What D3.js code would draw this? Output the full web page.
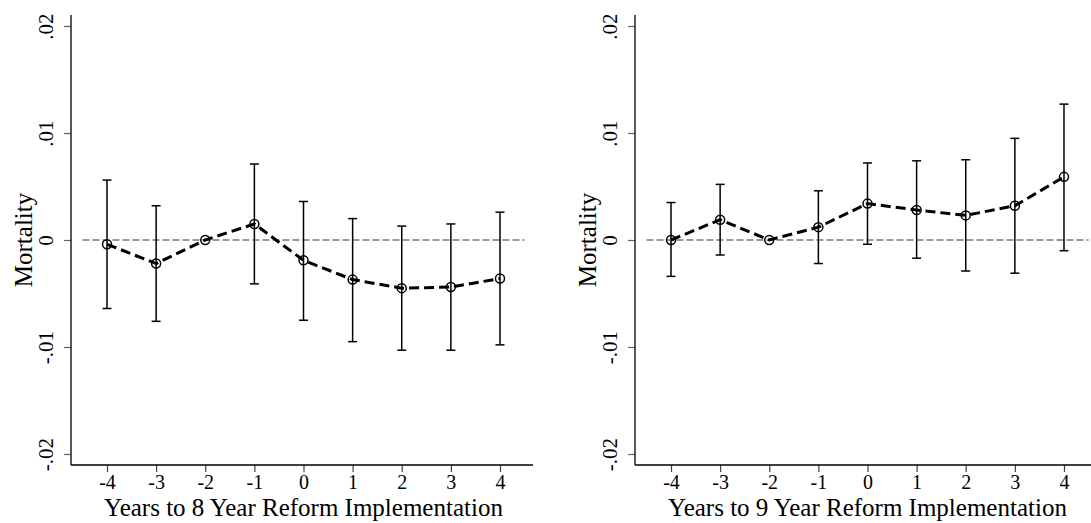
<!DOCTYPE html>
<html>
<head>
<meta charset="utf-8">
<script src="https://cdn.jsdelivr.net/npm/d3@7"></script>
<style>
  body { margin: 0; background: #fff; }
  svg text { font-family: "Liberation Serif", "Times New Roman", serif; fill: #000; }
</style>
</head>
<body>
<svg id="chart" width="1091" height="523"></svg>
<script>
// data
const years = [-4, -3, -2, -1, 0, 1, 2, 3, 4];
const yTicks = [-0.02, -0.01, 0, 0.01, 0.02];

const est8 = [-0.0004, -0.0022, 0, 0.0015, -0.0019, -0.0037, -0.0045, -0.0044, -0.0036];
const hi8  = [0.0056, 0.0032, null, 0.0071, 0.0036, 0.0020, 0.0013, 0.0015, 0.0026];
const lo8  = [-0.0064, -0.0076, null, -0.0041, -0.0075, -0.0095, -0.0103, -0.0103, -0.0098];

const est9 = [0, 0.0019, 0, 0.0012, 0.0034, 0.0028, 0.0023, 0.0032, 0.0059];
const hi9  = [0.0035, 0.0052, null, 0.0046, 0.0072, 0.0074, 0.0075, 0.0095, 0.0127];
const lo9  = [-0.0034, -0.0014, null, -0.0022, -0.0004, -0.0017, -0.0029, -0.0031, -0.0010];

const panels = [
  {title: "Years to 8 Year Reform Implementation", est: est8, hi: hi8, lo: lo8, left: 71},
  {title: "Years to 9 Year Reform Implementation", est: est9, hi: hi9, lo: lo9, left: 635}
];

const svg = d3.select('#chart');
const plotW = 462, plotTop = 15, plotBottom = 465;

// stata style: ".01", "-.01", "0"
const fmtTick = d => d === 0 ? "0"
  : (d < 0 ? "-" : "") + "." + String(Math.round(Math.abs(d) * 100)).padStart(2, "0");

panels.forEach(p => {
  const g = svg.append('g').attr('transform', `translate(${p.left},0)`);

  const x = d3.scaleLinear().domain([-4.733, 4.672]).range([0, plotW]);
  const y = d3.scaleLinear().domain([-0.02, 0.02]).range([454, 26]);

  const rows = years.map((yr, i) => ({yr, est: p.est[i], hi: p.hi[i], lo: p.lo[i]}));

  // zero reference line
  g.append('line')
    .attr('x1', x(-4.5)).attr('x2', x(4.5))
    .attr('y1', y(0)).attr('y2', y(0))
    .attr('stroke', '#333').attr('stroke-width', 1.2)
    .attr('stroke-dasharray', '7,3');

  // y axis
  const yAxis = g.append('g')
    .call(d3.axisLeft(y).tickValues(yTicks).tickSize(7).tickFormat(fmtTick));
  yAxis.select('.domain').remove();
  yAxis.selectAll('.tick line').attr('stroke', '#666').attr('stroke-width', 1.2);
  yAxis.selectAll('.tick text')
    .attr('font-size', 21)
    .attr('transform', 'rotate(-90)')
    .attr('x', 0).attr('y', -18)
    .attr('dy', 0)
    .attr('text-anchor', 'middle');
  g.append('line')
    .attr('x1', 0).attr('x2', 0).attr('y1', plotTop).attr('y2', plotBottom)
    .attr('stroke', '#000').attr('stroke-width', 1.3);

  // x axis
  const xAxis = g.append('g')
    .attr('transform', `translate(0,${plotBottom})`)
    .call(d3.axisBottom(x).tickValues(years).tickSize(7).tickFormat(d3.format('d')));
  xAxis.select('.domain').remove();
  xAxis.selectAll('.tick line').attr('stroke', '#444').attr('stroke-width', 1.2);
  xAxis.selectAll('.tick text')
    .attr('font-size', 20)
    .attr('y', 24).attr('dy', 0)
    .text(d => d < 0 ? '-' + Math.abs(d) : d);
  g.append('line')
    .attr('x1', 0).attr('x2', plotW).attr('y1', plotBottom).attr('y2', plotBottom)
    .attr('stroke', '#000').attr('stroke-width', 1.3);

  // axis titles
  g.append('text')
    .attr('x', x(0)).attr('y', 516)
    .attr('text-anchor', 'middle')
    .attr('font-size', 25)
    .text(p.title);
  g.append('text')
    .attr('transform', `translate(-39,${y(0)}) rotate(-90)`)
    .attr('text-anchor', 'middle')
    .attr('font-size', 25)
    .text('Mortality');

  // confidence intervals
  const ci = rows.filter(d => d.hi !== null);
  g.selectAll('.ci').data(ci).join('line')
    .attr('class', 'ci')
    .attr('x1', d => x(d.yr)).attr('x2', d => x(d.yr))
    .attr('y1', d => y(d.hi)).attr('y2', d => y(d.lo))
    .attr('stroke', '#000').attr('stroke-width', 1.5);
  ['hi', 'lo'].forEach(k => {
    g.selectAll('.cap-' + k).data(ci).join('line')
      .attr('class', 'cap-' + k)
      .attr('x1', d => x(d.yr) - 4.5).attr('x2', d => x(d.yr) + 4.5)
      .attr('y1', d => y(d[k])).attr('y2', d => y(d[k]))
      .attr('stroke', '#000').attr('stroke-width', 1.5);
  });

  // estimates
  const line = d3.line().x(d => x(d.yr)).y(d => y(d.est));
  g.append('path')
    .datum(rows)
    .attr('d', line)
    .attr('fill', 'none')
    .attr('stroke', '#000').attr('stroke-width', 3)
    .attr('stroke-dasharray', '10,5');

  g.selectAll('.pt').data(rows).join('circle')
    .attr('class', 'pt')
    .attr('cx', d => x(d.yr)).attr('cy', d => y(d.est))
    .attr('r', 4.5)
    .attr('fill', 'none')
    .attr('stroke', '#000').attr('stroke-width', 1.5);
});
</script>
</body>
</html>
